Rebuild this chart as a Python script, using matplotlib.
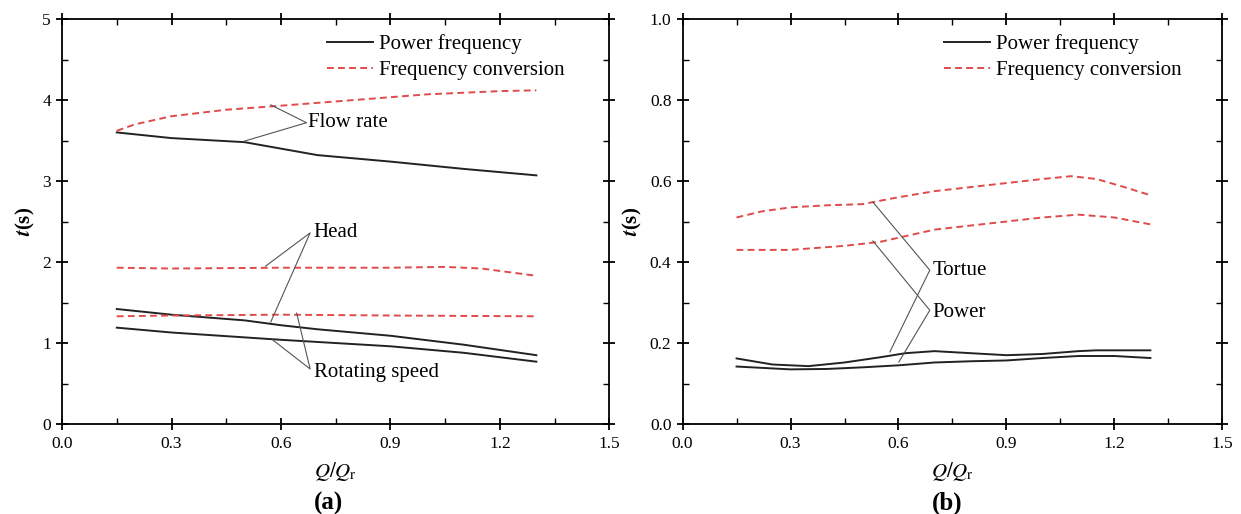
import matplotlib.pyplot as plt
from matplotlib.ticker import MultipleLocator

plt.rcParams['font.family'] = ['Liberation Serif', 'DejaVu Serif']
plt.rcParams['mathtext.fontset'] = 'stix'

# panel (a)
xa_flow_pf = [0.15, 0.3, 0.5, 0.6, 0.7, 0.9, 1.1, 1.3]
ya_flow_pf = [3.60, 3.53, 3.48, 3.40, 3.32, 3.24, 3.15, 3.07]
xa_flow_fc = [0.15, 0.2, 0.3, 0.45, 0.6, 0.8, 1.0, 1.2, 1.3]
ya_flow_fc = [3.62, 3.70, 3.80, 3.88, 3.93, 4.00, 4.07, 4.11, 4.12]
xa_head_fc = [0.15, 0.3, 0.6, 0.9, 1.05, 1.15, 1.3]
ya_head_fc = [1.93, 1.92, 1.93, 1.93, 1.94, 1.92, 1.83]
xa_head_pf = [0.15, 0.3, 0.5, 0.6, 0.7, 0.9, 1.1, 1.3]
ya_head_pf = [1.42, 1.35, 1.28, 1.22, 1.17, 1.09, 0.98, 0.85]
xa_rot_fc = [0.15, 0.3, 0.6, 0.9, 1.3]
ya_rot_fc = [1.33, 1.34, 1.35, 1.34, 1.33]
xa_rot_pf = [0.15, 0.3, 0.6, 0.9, 1.1, 1.3]
ya_rot_pf = [1.19, 1.13, 1.04, 0.96, 0.88, 0.77]

# panel (b)
xb_tq_fc = [0.15, 0.22, 0.3, 0.4, 0.5, 0.6, 0.7, 0.8, 0.9, 1.0, 1.08, 1.15, 1.22, 1.3]
yb_tq_fc = [0.51, 0.525, 0.535, 0.54, 0.543, 0.56, 0.575, 0.585, 0.595, 0.605, 0.612, 0.605, 0.587, 0.565]
xb_pw_fc = [0.15, 0.3, 0.45, 0.55, 0.7, 0.8, 0.9, 1.0, 1.1, 1.2, 1.3]
yb_pw_fc = [0.43, 0.43, 0.44, 0.45, 0.48, 0.49, 0.50, 0.51, 0.517, 0.51, 0.493]
xb_tq_pf = [0.15, 0.25, 0.35, 0.45, 0.55, 0.62, 0.7, 0.8, 0.9, 1.0, 1.1, 1.15, 1.3]
yb_tq_pf = [0.162, 0.147, 0.143, 0.152, 0.165, 0.175, 0.18, 0.175, 0.17, 0.173, 0.18, 0.182, 0.182]
xb_pw_pf = [0.15, 0.3, 0.4, 0.5, 0.6, 0.7, 0.8, 0.9, 1.0, 1.1, 1.2, 1.3]
yb_pw_pf = [0.142, 0.135, 0.136, 0.14, 0.145, 0.152, 0.155, 0.157, 0.163, 0.168, 0.168, 0.163]

red = '#e04a4a'
dash = (0, (3.5, 2.2))
black = '#222222'
lc = '#555555'

fig = plt.figure(figsize=(12.41, 5.14), dpi=100)
ax1 = fig.add_axes([0.050, 0.175, 0.441, 0.788])
ax2 = fig.add_axes([0.550, 0.175, 0.435, 0.788])


def style(ax, ymax, ymaj, yfmt):
    ax.set_xlim(0, 1.5)
    ax.set_ylim(0, ymax)
    ax.xaxis.set_major_locator(MultipleLocator(0.3))
    ax.xaxis.set_minor_locator(MultipleLocator(0.15))
    ax.yaxis.set_major_locator(MultipleLocator(ymaj))
    ax.yaxis.set_minor_locator(MultipleLocator(ymaj / 2))
    ax.xaxis.set_major_formatter(plt.FormatStrFormatter('%.1f'))
    ax.yaxis.set_major_formatter(plt.FormatStrFormatter(yfmt))
    ax.tick_params(which='major', direction='inout', length=9, width=1.3,
                   top=True, right=True, labelsize=12.5)
    ax.tick_params(axis='x', which='major', pad=3.8)
    ax.tick_params(which='minor', direction='in', length=4, width=1.0,
                   top=True, right=True)
    for s in ax.spines.values():
        s.set_linewidth(1.3)
    ax.set_xlabel(r'$Q/Q_\mathrm{r}$', fontsize=15, labelpad=6)
    ax.set_ylabel(r'$\boldsymbol{t}$(s)', fontsize=15, fontweight='bold', labelpad=4)
    ax.legend(loc='upper left', frameon=False, fontsize=15, handlelength=2.2,
              handletextpad=0.3, labelspacing=0.3, borderpad=0, borderaxespad=0,
              bbox_to_anchor=(0.484, 0.962))


# lines (a)
ax1.plot(xa_flow_pf, ya_flow_pf, color=black, lw=1.4, label='Power frequency')
ax1.plot(xa_flow_fc, ya_flow_fc, color=red, lw=1.4, ls=dash, label='Frequency conversion')
ax1.plot(xa_head_pf, ya_head_pf, color=black, lw=1.4)
ax1.plot(xa_head_fc, ya_head_fc, color=red, lw=1.4, ls=dash)
ax1.plot(xa_rot_pf, ya_rot_pf, color=black, lw=1.4)
ax1.plot(xa_rot_fc, ya_rot_fc, color=red, lw=1.4, ls=dash)

# lines (b)
ax2.plot(xb_tq_pf, yb_tq_pf, color=black, lw=1.4, label='Power frequency')
ax2.plot(xb_tq_fc, yb_tq_fc, color=red, lw=1.4, ls=dash, label='Frequency conversion')
ax2.plot(xb_pw_pf, yb_pw_pf, color=black, lw=1.4)
ax2.plot(xb_pw_fc, yb_pw_fc, color=red, lw=1.4, ls=dash)

style(ax1, 5, 1, '%d')
style(ax2, 1.0, 0.2, '%.1f')

# leader annotations (a)
ax1.plot([0.572, 0.67, 0.498], [3.94, 3.72, 3.49], color=lc, lw=0.8)
ax1.text(0.675, 3.72, 'Flow rate', fontsize=15, va='center')
ax1.plot([0.558, 0.68, 0.572], [1.95, 2.36, 1.26], color=lc, lw=0.8)
ax1.text(0.69, 2.36, 'Head', fontsize=15, va='center')
ax1.plot([0.577, 0.68, 0.643], [1.04, 0.68, 1.37], color=lc, lw=0.8)
ax1.text(0.69, 0.64, 'Rotating speed', fontsize=15, va='center')

# leader annotations (b)
ax2.plot([0.529, 0.687, 0.576], [0.548, 0.38, 0.178], color=lc, lw=0.8)
ax2.text(0.695, 0.378, 'Tortue', fontsize=15, va='center')
ax2.plot([0.529, 0.687, 0.601], [0.452, 0.281, 0.153], color=lc, lw=0.8)
ax2.text(0.695, 0.276, 'Power', fontsize=15, va='center')

fig.text(0.265, 0.021, '(a)', fontsize=18, fontweight='bold', ha='center', va='center')
fig.text(0.763, 0.021, '(b)', fontsize=18, fontweight='bold', ha='center', va='center')

fig.savefig('out.png', dpi=100)
